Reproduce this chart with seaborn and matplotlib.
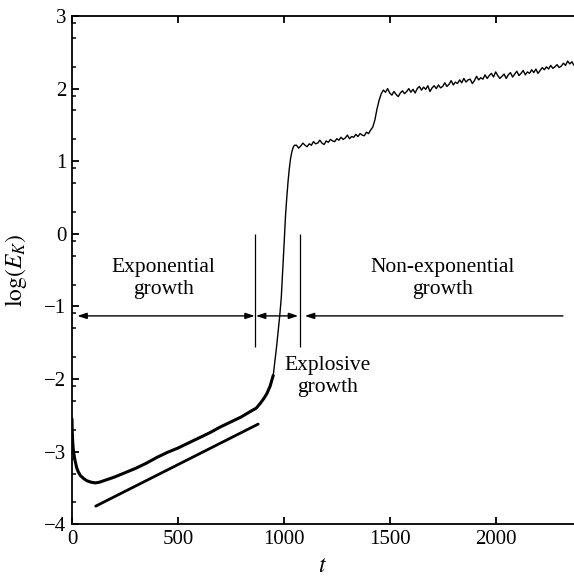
import numpy as np
import pandas as pd
import matplotlib
matplotlib.use("Agg")
import matplotlib.pyplot as plt
import seaborn as sns
from matplotlib.ticker import FixedLocator, MultipleLocator

# ---- kinetic energy history: log(E_K) against time t ----
t_linear = [0, 1, 3, 6, 10, 15, 22, 30, 40, 55, 70, 90, 110, 130, 160, 200, 250,
            300, 350, 400, 450, 500, 550, 600, 650, 700, 750, 800, 840, 870, 890,
            905, 920, 935, 950]
logE_linear = [-2.55, -2.70, -2.85, -2.97, -3.05, -3.13, -3.22, -3.28, -3.33, -3.37,
               -3.40, -3.42, -3.43, -3.42, -3.39, -3.35, -3.29, -3.23, -3.16, -3.08,
               -3.01, -2.95, -2.88, -2.81, -2.74, -2.66, -2.59, -2.52, -2.45, -2.40,
               -2.33, -2.27, -2.20, -2.10, -1.95]

t_late = [950, 958, 966, 974, 981, 988, 995, 1002, 1008, 1014, 1020, 1026, 1032,
          1038, 1044, 1050] + list(range(1060, 2380, 10))
logE_late = [-1.95, -1.75, -1.55, -1.32, -1.12, -0.88, -0.50, -0.10, 0.25, 0.50,
             0.72, 0.90, 1.04, 1.13, 1.19, 1.22,
             # 1060 - 1410
             1.22, 1.18, 1.21, 1.25, 1.22, 1.20, 1.24, 1.22, 1.27, 1.24,
             1.25, 1.29, 1.25, 1.23, 1.28, 1.26, 1.30, 1.28, 1.27, 1.31,
             1.29, 1.33, 1.30, 1.32, 1.36, 1.31, 1.34, 1.33, 1.37, 1.34,
             1.38, 1.36, 1.35, 1.40, 1.38, 1.43,
             # 1420 - 1470: second jump
             1.47, 1.57, 1.72, 1.84, 1.93, 1.98,
             # 1480 - 2370
             1.95, 2.00, 1.94, 1.91, 1.96, 1.92, 1.89, 1.94, 1.97, 1.93,
             1.96, 2.00, 1.95, 1.99, 1.94, 2.00, 2.03, 1.98, 2.02, 1.99,
             2.04, 1.96, 2.01, 2.04, 2.00, 2.05, 2.01, 2.03, 2.08, 2.03,
             2.06, 2.11, 2.05, 2.09, 2.07, 2.12, 2.08, 2.14, 2.09, 2.12,
             2.13, 2.07, 2.11, 2.17, 2.12, 2.15, 2.13, 2.19, 2.14, 2.18,
             2.21, 2.16, 2.23, 2.18, 2.14, 2.17, 2.20, 2.14, 2.19, 2.22,
             2.16, 2.20, 2.24, 2.18, 2.21, 2.25, 2.19, 2.23, 2.21, 2.26,
             2.22, 2.27, 2.21, 2.25, 2.29, 2.26, 2.30, 2.27, 2.32, 2.28,
             2.30, 2.33, 2.29, 2.31, 2.35, 2.32, 2.38, 2.34, 2.37, 2.32]

# straight line showing the exponential growth rate
fit_t = [112, 879]
fit_logE = [-3.75, -2.62]

# boundaries between the growth regimes
phase_bounds = [863, 1076]
bound_span = [0.0, -1.56]
arrow_level = -1.13

phase_labels = ["Exponential\ngrowth", "Explosive\ngrowth", "Non-exponential\ngrowth"]
phase_label_t = [432, 1205, 1751]
phase_label_logE = [-0.615, -1.965, -0.615]

x_ticks = [0, 500, 1000, 1500, 2000]

df_lin = pd.DataFrame({"t": t_linear, "logE": logE_linear})
df_late = pd.DataFrame({"t": t_late, "logE": logE_late})
df_fit = pd.DataFrame({"t": fit_t, "logE": fit_logE})

sns.set_style("ticks")
plt.rcParams.update({
    "font.family": ["Liberation Serif", "DejaVu Serif"],
    "mathtext.fontset": "stix",
    "axes.linewidth": 1.3,
    "axes.edgecolor": "black",
    "axes.labelcolor": "black",
    "text.color": "black",
    "xtick.color": "black",
    "ytick.color": "black",
    "xtick.direction": "in",
    "ytick.direction": "in",
})

W, H = 574, 579
fig = plt.figure(figsize=(W / 100, H / 100), dpi=100)
ax = fig.add_axes([72 / W, (H - 524.3) / H, 1 - 72 / W, (524.3 - 16) / H])

sns.lineplot(data=df_lin, x="t", y="logE", ax=ax, color="black", lw=2.2,
             sort=False, estimator=None)
sns.lineplot(data=df_late, x="t", y="logE", ax=ax, color="black", lw=1.0,
             sort=False, estimator=None)
sns.lineplot(data=df_fit, x="t", y="logE", ax=ax, color="black", lw=2.0,
             sort=False, estimator=None)

# regime boundaries
ax.vlines(phase_bounds, bound_span[1], bound_span[0], color="black", lw=0.9)

head = "<|-|>,head_length=0.55,head_width=0.18"
ax.annotate("", xy=(phase_bounds[0], arrow_level), xytext=(25, arrow_level),
            arrowprops=dict(arrowstyle=head, color="black", lw=1.0,
                            shrinkA=0, shrinkB=0))
ax.annotate("", xy=(phase_bounds[1] - 8, arrow_level),
            xytext=(phase_bounds[0] + 5, arrow_level),
            arrowprops=dict(arrowstyle=head, color="black", lw=1.0,
                            shrinkA=0, shrinkB=0))
ax.annotate("", xy=(phase_bounds[1] + 23, arrow_level), xytext=(2318, arrow_level),
            arrowprops=dict(arrowstyle="-|>,head_length=0.55,head_width=0.18",
                            color="black", lw=1.0, shrinkA=0, shrinkB=0))

for lab, tx, ty in zip(phase_labels, phase_label_t, phase_label_logE):
    ax.text(tx, ty, lab, ha="center", va="center", fontsize=15.5,
            linespacing=1.2, multialignment="center")

ax.set_xlim(0, 2370)
ax.set_ylim(-4, 3)
ax.xaxis.set_major_locator(FixedLocator(x_ticks))
ax.yaxis.set_major_locator(MultipleLocator(1))
minor_y = [n + np.log10(m) for n in range(-4, 3) for m in (2, 5, 8)]
ax.yaxis.set_minor_locator(FixedLocator(minor_y))

ax.tick_params(axis="both", which="major", length=5, width=1.3,
               labelsize=15, pad=4)
ax.tick_params(axis="y", which="minor", length=3, width=1.1)
ax.tick_params(axis="x", top=True, bottom=True)
ax.tick_params(axis="y", left=True, right=False)
ax.spines["right"].set_visible(False)

ax.set_xlabel(r"$t$", fontsize=17)
ax.set_ylabel(r"$\log(E_K)$", fontsize=17)
ax.xaxis.set_label_coords(0.5, -0.062)
ax.yaxis.set_label_coords(-0.085, 0.5)

fig.savefig("out.png", dpi=100)
